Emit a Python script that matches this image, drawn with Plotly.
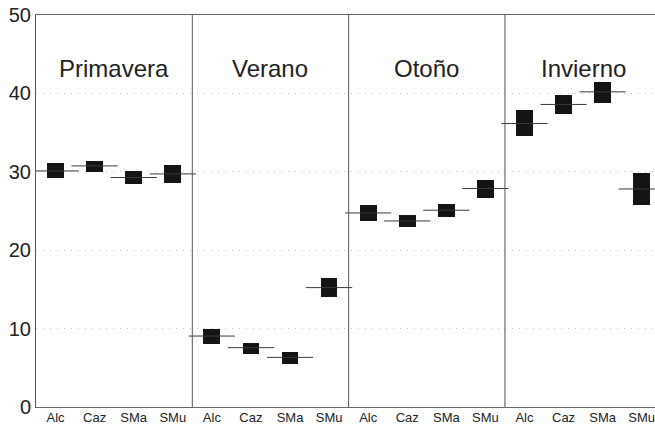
import plotly.graph_objects as go

seasons = ["Primavera", "Verano", "Otoño", "Invierno"]
sites = ["Alc", "Caz", "SMa", "SMu"]

# per season, per site: box top, box bottom, mean
primavera_top = [31.06, 31.39, 30.07, 30.93]
primavera_bot = [29.22, 29.95, 28.41, 28.54]
primavera_mean = [30.11, 30.75, 29.27, 29.73]

verano_top = [9.99, 8.21, 7.01, 16.45]
verano_bot = [8.08, 6.80, 5.53, 14.08]
verano_mean = [9.05, 7.57, 6.33, 15.23]

otono_top = [25.73, 24.46, 25.90, 29.01]
otono_bot = [23.78, 23.01, 24.29, 26.67]
otono_mean = [24.75, 23.73, 25.10, 27.87]

invierno_top = [37.86, 39.81, 41.47, 29.86]
invierno_bot = [34.54, 37.35, 38.72, 25.73]
invierno_mean = [36.16, 38.59, 40.20, 27.81]

y_ticks = [0, 10, 20, 30, 40, 50]

tops = primavera_top + verano_top + otono_top + invierno_top
bots = primavera_bot + verano_bot + otono_bot + invierno_bot
means = primavera_mean + verano_mean + otono_mean + invierno_mean
xpos = list(range(len(tops)))
ticktext = sites * len(seasons)

FONT = "Liberation Sans, Arial, Helvetica, sans-serif"

fig = go.Figure()
fig.add_trace(go.Bar(
    x=xpos, y=[t - b for t, b in zip(tops, bots)], base=bots,
    width=0.43, marker=dict(color="#141414", line=dict(width=0)),
    showlegend=False, hoverinfo="skip",
))
fig.add_trace(go.Scatter(
    x=xpos, y=means, mode="markers",
    marker=dict(symbol="line-ew", size=33, line=dict(width=1, color="#3a3a3a")),
    showlegend=False, hoverinfo="skip",
))

n_sites = len(sites)
for i in range(1, len(seasons)):
    fig.add_shape(type="line", xref="x", yref="paper",
                  x0=i * n_sites - 0.5, x1=i * n_sites - 0.5, y0=0, y1=1,
                  line=dict(color="#555555", width=1))

for i, s in enumerate(seasons):
    fig.add_annotation(x=i * n_sites + (n_sites - 1) / 2, y=43.2, text=s,
                       showarrow=False, xref="x", yref="y",
                       font=dict(family=FONT, size=24, color="#222222"))

fig.update_layout(
    width=655, height=426,
    margin=dict(l=36, r=0, t=15, b=19),
    paper_bgcolor="white", plot_bgcolor="white",
    font=dict(family=FONT, color="#222222"),
    bargap=0,
)
fig.update_xaxes(
    range=[-0.5, 15.34], tickvals=xpos, ticktext=ticktext,
    tickfont=dict(size=13, color="#222222"), ticks="", ticklen=0,
    ticklabeloverflow="allow", ticklabelstandoff=-2,
    showgrid=False, zeroline=False, automargin=False,
    showline=True, linecolor="#666666", linewidth=1, mirror=True,
)
fig.update_yaxes(
    range=[0, 50], tickvals=y_ticks, ticks="", ticklen=0,
    tickfont=dict(size=20, color="#222222"), automargin=False,
    showgrid=True, gridcolor="#c4c4c4", griddash="1px,6px", gridwidth=1,
    zeroline=False, showline=True, linecolor="#555555", linewidth=1,
    mirror=False,
)

fig.write_html(
    "out.html",
    config={"displayModeBar": False},
    post_script="document.body.style.margin='0';document.body.style.overflow='hidden';"
                "document.documentElement.style.overflow='hidden';",
)
